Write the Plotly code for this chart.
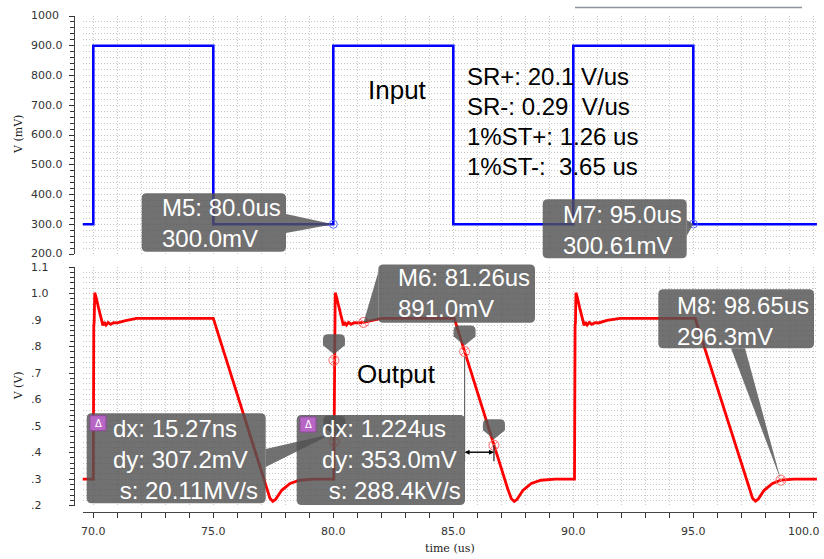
import plotly.graph_objects as go

# ---------------- data ----------------
# Input (square wave), step-style points (time in us, value in mV)
in_t = [69.55, 70.0, 75.0, 80.0, 85.0, 90.0, 95.0, 100.15]
in_v = [300, 900, 300, 900, 300, 900, 300, 300]

# Output (time in us, value in V)
out_t = [69.55, 70.00, 70.02, 70.035, 70.06, 70.12, 70.22, 70.32, 70.40, 70.46, 70.53, 70.62, 70.72, 70.85, 71.00, 71.30, 71.80,
         75.00, 77.22, 77.36, 77.48, 77.60, 77.85, 78.20, 78.60, 79.20,
         80.02, 80.045, 80.06, 80.08, 80.14, 80.24, 80.34, 80.42, 80.48, 80.55, 80.64, 80.74, 80.87, 81.02, 81.26, 81.60, 82.00,
         85.04, 85.47, 86.694, 87.28, 87.42, 87.54, 87.66, 87.90, 88.25, 88.65, 89.25,
         90.05, 90.075, 90.09, 90.11, 90.17, 90.27, 90.37, 90.45, 90.51, 90.58, 90.67, 90.77, 90.90, 91.05, 91.40, 91.95,
         95.08, 97.33, 97.47, 97.59, 97.71, 97.95, 98.30, 98.65, 99.20, 100.15]
out_v = [0.300, 0.300, 0.880, 0.890, 1.003, 0.985, 0.945, 0.905, 0.880, 0.892, 0.881, 0.891, 0.884, 0.890, 0.889, 0.897, 0.906,
         0.906, 0.262, 0.228, 0.216, 0.224, 0.258, 0.284, 0.296, 0.300,
         0.300, 0.880, 0.890, 1.003, 0.985, 0.945, 0.905, 0.880, 0.892, 0.881, 0.891, 0.884, 0.890, 0.889, 0.891, 0.899, 0.906,
         0.906, 0.781, 0.428, 0.260, 0.226, 0.216, 0.224, 0.258, 0.284, 0.296, 0.300,
         0.300, 0.880, 0.890, 1.003, 0.985, 0.945, 0.905, 0.880, 0.892, 0.881, 0.891, 0.884, 0.890, 0.889, 0.899, 0.906,
         0.906, 0.262, 0.228, 0.217, 0.225, 0.258, 0.284, 0.2963, 0.300, 0.300]

# Markers
top_mk_t = [80.0, 95.0]
top_mk_v = [300.0, 300.61]
top_mk_lbl = ["M5: 80.0us<br>300.0mV", "M7: 95.0us<br>300.61mV"]

bot_mk_t = [81.26, 98.65]
bot_mk_v = [0.891, 0.2963]
bot_mk_lbl = ["M6: 81.26us<br>891.0mV", "M8: 98.65us<br>296.3mV"]

delta_t = [80.027, 80.042, 85.47, 86.694]
delta_v = [0.7482, 0.4410, 0.781, 0.428]
delta_lbl = ["dx: 15.27ns<br>dy: 307.2mV<br>\u00a0s: 20.11MV/s",
             "dx: 1.224us<br>dy: 353.0mV<br>\u00a0s: 288.4kV/s"]

sr_lines = ["SR+: 20.1 V/us", "SR-: 0.29\u00a0\u00a0V/us", "1%ST+: 1.26 us", "1%ST-:\u00a0\u00a03.65 us"]

top_tick_vals = [200, 300, 400, 500, 600, 700, 800, 900, 1000]
top_tick_text = ["200.0", "300.0", "400.0", "500.0", "600.0", "700.0", "800.0", "900.0", "1000"]
bot_tick_vals = [0.2, 0.3, 0.4, 0.5, 0.6, 0.7, 0.8, 0.9, 1.0, 1.1]
bot_tick_text = [".2", ".3", ".4", ".5", ".6", ".7", ".8", ".9", "1.0", "1.1"]
x_tick_vals = [70, 75, 80, 85, 90, 95, 100]
x_tick_text = ["70.0", "75.0", "80.0", "85.0", "90.0", "95.0", "100.0"]

# ---------------- geometry ----------------
W, H = 824, 559
XL, XR = 82.5, 817.0
XMIN, XMAX = 69.55, 100.154
T_TOP, T_BOT = 16.0, 254.0
TOP_MIN, TOP_MAX = 200, 1000
B_TOP, B_BOT = 267.0, 505.7
BOT_MIN, BOT_MAX = 0.2, 1.1


def PX(x):
    return x / W


def PY(y):
    return 1 - y / H


def tx(t):
    return XL + (t - XMIN) / (XMAX - XMIN) * (XR - XL)


def ty_top(v):
    return T_TOP + (TOP_MAX - v) / (TOP_MAX - TOP_MIN) * (T_BOT - T_TOP)


def ty_bot(v):
    return B_TOP + (BOT_MAX - v) / (BOT_MAX - BOT_MIN) * (B_BOT - B_TOP)


BOX_FILL = "rgba(82,82,82,0.82)"


def rrect(x0, y0, x1, y1, r=5, fill=BOX_FILL):
    p = (f"M {PX(x0 + r)},{PY(y0)} L {PX(x1 - r)},{PY(y0)} Q {PX(x1)},{PY(y0)} {PX(x1)},{PY(y0 + r)} "
         f"L {PX(x1)},{PY(y1 - r)} Q {PX(x1)},{PY(y1)} {PX(x1 - r)},{PY(y1)} "
         f"L {PX(x0 + r)},{PY(y1)} Q {PX(x0)},{PY(y1)} {PX(x0)},{PY(y1 - r)} "
         f"L {PX(x0)},{PY(y0 + r)} Q {PX(x0)},{PY(y0)} {PX(x0 + r)},{PY(y0)} Z")
    return dict(type="path", path=p, xref="paper", yref="paper", fillcolor=fill,
                line=dict(width=0), layer="above")


def poly(pts, fill=BOX_FILL):
    p = "M " + " L ".join(f"{PX(a)},{PY(b)}" for a, b in pts) + " Z"
    return dict(type="path", path=p, xref="paper", yref="paper", fillcolor=fill,
                line=dict(width=0), layer="above")


def pin(cx, tip, w=22, h=20):
    top = tip - h
    hw = w / 2
    p = (f"M {PX(cx)},{PY(tip)} L {PX(cx - hw)},{PY(top + h * 0.55)} "
         f"L {PX(cx - hw)},{PY(top + 5)} Q {PX(cx - hw)},{PY(top)} {PX(cx - hw + 5)},{PY(top)} "
         f"L {PX(cx + hw - 5)},{PY(top)} Q {PX(cx + hw)},{PY(top)} {PX(cx + hw)},{PY(top + 5)} "
         f"L {PX(cx + hw)},{PY(top + h * 0.55)} Z")
    return dict(type="path", path=p, xref="paper", yref="paper", fillcolor=BOX_FILL,
                line=dict(width=0), layer="above")


def txt(xp, yp, text, size, color="black", family="Liberation Sans", xa="center", ya="middle", **kw):
    d = dict(x=PX(xp), y=PY(yp), xref="paper", yref="paper", text=text, showarrow=False,
             xanchor=xa, yanchor=ya, font=dict(family=family, size=size, color=color))
    d.update(kw)
    return d


fig = go.Figure()

fig.add_trace(go.Scatter(x=in_t, y=in_v, mode="lines", line=dict(color="#0000ff", width=2.6, shape="hv"),
                         xaxis="x", yaxis="y", hoverinfo="skip"))
fig.add_trace(go.Scatter(x=top_mk_t, y=top_mk_v, mode="markers",
                         marker=dict(symbol="circle-open", size=8, color="#5a6cff", line=dict(width=1)),
                         xaxis="x", yaxis="y", hoverinfo="skip"))
fig.add_trace(go.Scatter(x=out_t, y=out_v, mode="lines", line=dict(color="#ff0000", width=2.8),
                         xaxis="x2", yaxis="y2", hoverinfo="skip"))
fig.add_trace(go.Scatter(x=bot_mk_t + delta_t, y=bot_mk_v + delta_v, mode="markers",
                         marker=dict(symbol="circle-x-open", size=10, color="#ff6a6a", line=dict(width=1)),
                         xaxis="x2", yaxis="y2", hoverinfo="skip"))

GRID = "#c6c6c6"
DASH = "1px,2px"
xdom = [XL / W, XR / W]

fig.update_layout(
    width=W, height=H, margin=dict(l=0, r=0, t=0, b=0),
    paper_bgcolor="white", plot_bgcolor="white", showlegend=False,
    xaxis=dict(domain=xdom, range=[XMIN, XMAX], anchor="y", showticklabels=False, ticks="",
               showline=False, zeroline=False, showgrid=True, dtick=1, tick0=70,
               gridcolor=GRID, griddash=DASH, gridwidth=1),
    yaxis=dict(domain=[PY(T_BOT), PY(T_TOP)], range=[TOP_MIN, TOP_MAX], anchor="free", position=73.5 / W,
               showticklabels=False, ticks="outside", ticklen=5, tickcolor="#333", dtick=100, tick0=200,
               showline=True, linecolor="#444", linewidth=1, zeroline=False,
               showgrid=True, gridcolor=GRID, griddash=DASH,
               minor=dict(dtick=20, ticks="outside", ticklen=4, tickcolor="#333",
                          showgrid=True, gridcolor=GRID, griddash=DASH)),
    xaxis2=dict(domain=xdom, range=[XMIN, XMAX], anchor="free", position=PY(511.7),
                ticks="outside", ticklen=5, tickcolor="#333", dtick=5, tick0=70, showticklabels=False,
                showline=True, linecolor="#444", linewidth=1, zeroline=False,
                showgrid=True, gridcolor=GRID, griddash=DASH,
                minor=dict(dtick=1, ticks="outside", ticklen=5, tickcolor="#333",
                           showgrid=True, gridcolor=GRID, griddash=DASH)),
    yaxis2=dict(domain=[PY(B_BOT), PY(B_TOP)], range=[BOT_MIN, BOT_MAX], anchor="free", position=73.5 / W,
                showticklabels=False, ticks="outside", ticklen=5, tickcolor="#333", dtick=0.1, tick0=0.2,
                showline=True, linecolor="#444", linewidth=1, zeroline=False,
                showgrid=True, gridcolor=GRID, griddash=DASH,
                minor=dict(dtick=0.02, ticks="outside", ticklen=4, tickcolor="#333",
                           showgrid=True, gridcolor=GRID, griddash=DASH)),
)

shapes = []
ann = []

# tick labels (left aligned y, centered x; the last x label kept inside the page)
for v, t in zip(top_tick_vals, top_tick_text):
    ann.append(dict(x=PX(28.5), xref="paper", y=v, yref="y", text=t, showarrow=False, xanchor="left",
                    yanchor="middle", font=dict(family="DejaVu Sans", size=11, color="#333")))
for v, t in zip(bot_tick_vals, bot_tick_text):
    ann.append(dict(x=PX(28.5), xref="paper", y=v, yref="y2", text=t, showarrow=False, xanchor="left",
                    yanchor="middle", font=dict(family="DejaVu Sans", size=11, color="#333")))
for i, (v, t) in enumerate(zip(x_tick_vals, x_tick_text)):
    last = i == len(x_tick_vals) - 1
    ann.append(dict(x=PX(822) if last else v, xref="paper" if last else "x2", y=PY(531.5), yref="paper",
                    text=t, showarrow=False, xanchor="right" if last else "center",
                    yanchor="middle", font=dict(family="DejaVu Sans", size=11, color="#333")))

# axis titles
ann.append(txt(18, (T_TOP + T_BOT) / 2, "V (mV)", 11, "#222", "DejaVu Serif", textangle=-90))
ann.append(txt(18, (B_TOP + B_BOT) / 2, "V (V)", 11, "#222", "DejaVu Serif", textangle=-90))
ann.append(txt(450, 548.5, "time (us)", 11, "#222", "DejaVu Serif"))

# Labels Input / Output
ann.append(txt(397, 90, "Input", 26))
ann.append(txt(396.5, 373.5, "Output", 26))

# SR block
for i, line in enumerate(sr_lines):
    ann.append(txt(465, 76.7 + 30 * i, line, 24, xa="left"))

# top-right thin line
shapes.append(dict(type="line", xref="paper", yref="paper", x0=PX(575), x1=PX(802), y0=PY(7.5), y1=PY(7.5),
                   line=dict(color="#8d939b", width=1.5)))

# M5 box
shapes.append(rrect(141.7, 193.3, 286, 251.7))
shapes.append(poly([(286, 214), (286, 233), (tx(top_mk_t[0]), ty_top(top_mk_v[0]))]))
ann.append(txt(160, 222.5, top_mk_lbl[0], 24, "white", xa="left", align="left"))
# M7 box
shapes.append(rrect(542.7, 199.3, 686.7, 258.3))
shapes.append(poly([(686.7, 220), (686.7, 236), (tx(top_mk_t[1]), ty_top(top_mk_v[1]))]))
ann.append(txt(560.5, 229.7, top_mk_lbl[1], 24, "white", xa="left", align="left"))
# M6 box
shapes.append(rrect(378.3, 264.5, 535, 322.7))
shapes.append(poly([(378.3, 272), (378.3, 320), (tx(bot_mk_t[0]), ty_bot(bot_mk_v[0]))]))
ann.append(txt(395.5, 293.3, bot_mk_lbl[0], 24, "white", xa="left", align="left"))
# M8 box
shapes.append(rrect(658.3, 289.3, 814, 348.3))
shapes.append(poly([(731, 348.3), (745, 348.3), (tx(bot_mk_t[1]), ty_bot(bot_mk_v[1]))]))
ann.append(txt(675, 320.5, bot_mk_lbl[1], 24, "white", xa="left", align="left"))

# Delta box 1
shapes.append(rrect(86.7, 413.3, 265.7, 503.3))
shapes.append(poly([(265.7, 449), (265.7, 467), (tx(delta_t[1]) - 2, ty_bot(delta_v[1]) - 8)]))
ann.append(txt(110.5, 459.8, delta_lbl[0], 24, "white", xa="left", align="left"))
# Delta box 2
shapes.append(rrect(296.7, 415, 465, 505))
ann.append(txt(320, 459.8, delta_lbl[1], 24, "white", xa="left", align="left"))

# delta icons
for (ix, iy) in [(90, 415.7), (300, 417)]:
    shapes.append(dict(type="rect", xref="paper", yref="paper", x0=PX(ix), x1=PX(ix + 16), y0=PY(iy + 15), y1=PY(iy),
                       fillcolor="#b866c6", line=dict(color="#8d4a9c", width=1), layer="above"))
    ann.append(txt(ix + 8, iy + 7.5, "\u0394", 10, "white", "DejaVu Sans"))

# pins above delta markers
for t, v in zip(delta_t, delta_v):
    shapes.append(pin(tx(t), ty_bot(v) - 6))

# delta measurement lines
x_a = tx(delta_t[2])
x_b = tx(delta_t[3])
y_arrow = ty_bot(delta_v[3]) + 7
shapes.append(dict(type="line", xref="paper", yref="paper", x0=PX(x_a), x1=PX(x_a), y0=PY(ty_bot(delta_v[2]) + 5),
                   y1=PY(y_arrow + 9), line=dict(color="#666", width=1.2), layer="above"))
shapes.append(dict(type="line", xref="paper", yref="paper", x0=PX(x_b), x1=PX(x_b), y0=PY(y_arrow - 7),
                   y1=PY(y_arrow + 9), line=dict(color="#222", width=1.2), layer="above"))
for tip, off in [(x_a, x_b - x_a), (x_b, x_a - x_b)]:
    ann.append(dict(x=PX(tip), y=PY(y_arrow), xref="paper", yref="paper", text="", showarrow=True,
                    ax=off, ay=0, arrowhead=2, arrowsize=1, arrowwidth=1, arrowcolor="black"))

fig.update_layout(shapes=shapes, annotations=ann)
fig.write_html("out.html")
